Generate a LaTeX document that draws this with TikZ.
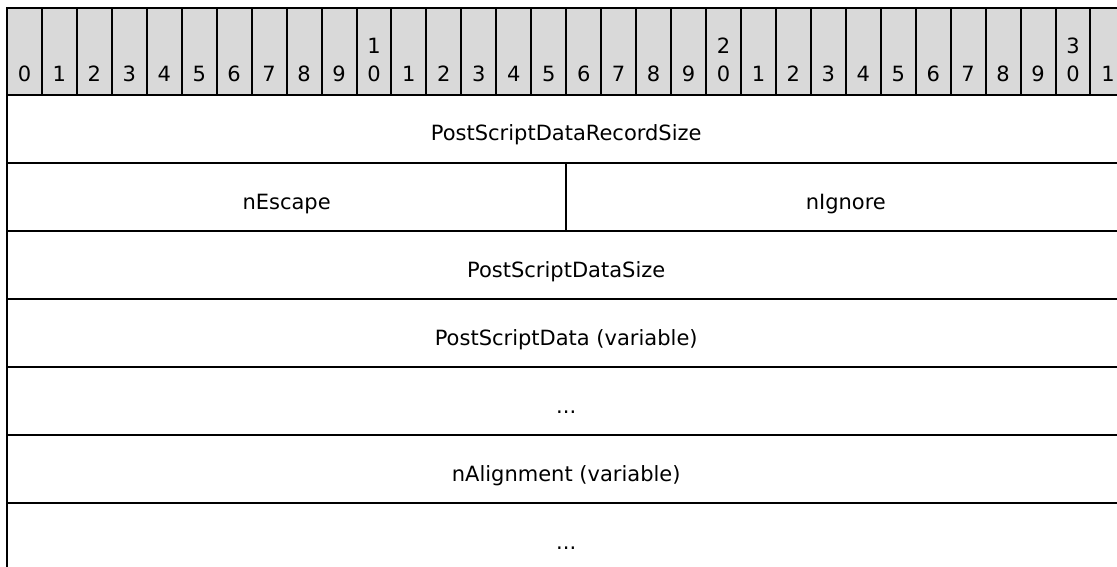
\documentclass[tikz,border=0pt]{standalone}
\usepackage{fontspec}
\setmainfont{DejaVu Sans}
\usetikzlibrary{positioning}
\definecolor{headgray}{RGB}{217,217,217}
\tikzset{
  fieldtext/.style={anchor=base, inner sep=0pt, font=\fontsize{21}{25}\selectfont},
  bitnum/.style={anchor=base, inner sep=0pt, font=\fontsize{21}{25}\selectfont},
  cell/.style={draw=black, line width=2pt},
}

\begin{document}
\begin{tikzpicture}[x=1pt,y=-1pt]
\useasboundingbox (0,0) rectangle (1117,567);
\clip (0,0) rectangle (1117,567);

% header row: bit numbers 0..31
\fill[headgray] (7,8) rectangle (1125.4,94.7);
\foreach \i in {0,...,31} {
  \pgfmathsetmacro\xl{7+34.95*\i}
  \pgfmathsetmacro\xr{7+34.95*(\i+1)}
  \pgfmathtruncatemacro\u{mod(\i,10)}
  \pgfmathtruncatemacro\t{\i/10}
  \draw[cell] (\xl,8) rectangle (\xr,94.7);
  \node[bitnum] (b\i) at ({(\xl+\xr)/2},81.7) {\u};
  \ifnum\u=0 \ifnum\i>0
    \node[bitnum] (t\i) at ({(\xl+\xr)/2},53.7) {\t};
  \fi\fi
}

% the fields, one row = 68.1
\draw[cell] (7,94.7) rectangle (1125.4,162.8);
\node[fieldtext] (recsize) at (566.2,141) {PostScriptDataRecordSize};

\draw[cell] (7,162.8) rectangle (566.2,230.9);
\draw[cell] (566.2,162.8) rectangle (1125.4,230.9);
\node[fieldtext] (nesc) at (286.6,209.1) {nEscape};
\node[fieldtext] (nign) at (845.8,209.1) {nIgnore};

\draw[cell] (7,230.9) rectangle (1125.4,299);
\node[fieldtext] (datasize) at (566.2,277.2) {PostScriptDataSize};

\draw[cell] (7,299) rectangle (1125.4,367.1);
\node[fieldtext] (psdata) at (566.2,345.3) {PostScriptData (variable)};

\draw[cell] (7,367.1) rectangle (1125.4,435.2);
\node[fieldtext] (dotsa) at (566.2,413.4) {...};

\draw[cell] (7,435.2) rectangle (1125.4,503.3);
\node[fieldtext] (nalign) at (566.2,481.5) {nAlignment (variable)};

\draw[cell] (7,503.3) rectangle (1125.4,571.4);
\node[fieldtext] (dotsb) at (566.2,549.6) {...};
\end{tikzpicture}
\end{document}
